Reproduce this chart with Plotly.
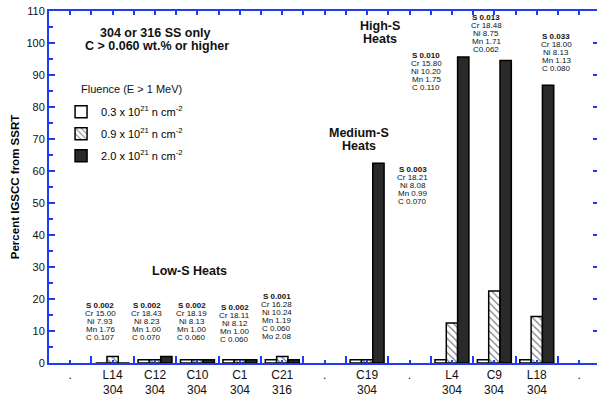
import plotly.graph_objects as go

# Category axis: heat IDs (empty slots shown as ".") and stainless grade
heat_labels = [".", "L14", "C12", "C10", "C1", "C21", ".", "C19", ".", "L4", "C9", "L18", "."]
grades = [None, "304", "304", "304", "304", "316", None, "304", None, "304", "304", "304", None]

# Percent IGSCC from SSRT at three fluence levels
igscc_03 = [None, 0, 1, 1, 1, 1, None, 1, None, 1, 1, 1, None]
igscc_09 = [None, 2, 1, 1, 1, 2, None, 1, None, 12.5, 22.5, 14.5, None]
igscc_20 = [None, 0, 2, 1, 1, 1, None, 62.4, None, 95.6, 94.5, 86.8, None]

# Heat chemistry (wt.%)
chem_heats = ["L14", "C12", "C10", "C1", "C21", "C19", "L4", "C9", "L18"]
chem_S = ["0.002", "0.002", "0.002", "0.002", "0.001", "0.003", "0.010", "0.013", "0.033"]
chem_Cr = ["15.00", "18.43", "18.19", "18.11", "16.28", "18.21", "15.80", "18.48", "18.00"]
chem_Ni = ["7.93", "8.23", "8.13", "8.12", "10.24", "8.08", "10.20", "8.75", "8.13"]
chem_Mn = ["1.76", "1.00", "1.00", "1.00", "1.19", "0.99", "1.75", "1.71", "1.13"]
chem_C = ["C 0.107", "C 0.070", "C 0.060", "C 0.060", "C 0.060", "C 0.070", "C 0.110", "C0.062", "C 0.080"]
chem_Mo = [None, None, None, None, "2.08", None, None, None, None]

series_names = [
    "0.3 x 10<sup>21</sup> n cm<sup>-2</sup>",
    "0.9 x 10<sup>21</sup> n cm<sup>-2</sup>",
    "2.0 x 10<sup>21</sup> n cm<sup>-2</sup>",
]

BLUE = "#1f3cf5"
FONT = "Liberation Sans, Arial, Helvetica, sans-serif"
x = list(range(len(heat_labels)))

fig = go.Figure()
fig.add_trace(go.Bar(
    x=x, y=igscc_03, name=series_names[0], legendgroup="a",
    marker=dict(color="white", line=dict(color="black", width=1.5)),
))
fig.add_trace(go.Bar(
    x=x, y=igscc_09, name=series_names[1], legendgroup="b",
    marker=dict(color="white", line=dict(color="black", width=1.5),
                pattern=dict(shape="\\", fgcolor="black", bgcolor="white",
                             size=5, solidity=0.25)),
))
fig.add_trace(go.Bar(
    x=x, y=igscc_20, name=series_names[2], legendgroup="c",
    marker=dict(color="#2a2a2a", line=dict(color="black", width=1.5)),
))
# carrier trace for the top/right tick frame
fig.add_trace(go.Scatter(x=[0], y=[0], xaxis="x2", yaxis="y2", mode="markers",
                         marker=dict(opacity=0), showlegend=False, hoverinfo="skip"))

XR = [-0.5, 12.42]
fig.update_layout(
    width=598, height=396,
    margin=dict(l=49, r=1, t=11, b=33),
    paper_bgcolor="white", plot_bgcolor="white",
    font=dict(family=FONT, color="black"),
    barmode="group", bargap=0.2, bargroupgap=0,
    showlegend=True,
    legend=dict(x=0.022, y=0.755, xanchor="left", yanchor="top",
                font=dict(size=11, family=FONT), bgcolor="rgba(0,0,0,0)",
                traceorder="grouped", tracegroupgap=3, itemclick=False),
    xaxis=dict(
        range=XR, tickmode="array", tickvals=x, ticktext=heat_labels,
        ticks="inside", ticklen=3, tickwidth=2, tickcolor=BLUE,
        showline=True, linecolor=BLUE, linewidth=2, showgrid=False, zeroline=False,
        tickfont=dict(size=12, family=FONT, color="#111"),
        minor=dict(tickmode="array", tickvals=[i + 0.5 for i in x[:-1]],
                   ticks="inside", ticklen=7, tickwidth=2, tickcolor=BLUE, showgrid=False),
    ),
    yaxis=dict(
        range=[0, 110], dtick=10, ticks="inside", ticklen=6, tickwidth=2, tickcolor=BLUE,
        showline=True, linecolor=BLUE, linewidth=2, showgrid=False, zeroline=False,
        tickfont=dict(size=11, family=FONT, color="#111"),
        minor=dict(dtick=5, ticks="inside", ticklen=4, tickwidth=2, tickcolor=BLUE, showgrid=False),
        title=dict(text="<b>Percent IGSCC from SSRT</b>", font=dict(size=11.5, family=FONT), standoff=4),
    ),
    xaxis2=dict(
        overlaying="x", side="top", range=XR, tickmode="linear", tick0=0, dtick=0.5,
        ticks="inside", ticklen=4, tickwidth=2, tickcolor=BLUE,
        showline=True, linecolor=BLUE, linewidth=2, showgrid=False, zeroline=False,
        showticklabels=False,
    ),
    yaxis2=dict(
        overlaying="y", side="right", range=[0, 110], dtick=10,
        ticks="inside", ticklen=4, tickwidth=2, tickcolor=BLUE,
        showline=False, showgrid=False, zeroline=False, showticklabels=False,
    ),
)

ann = []
# stainless grade row under the heat IDs
for xi, g in zip(x, grades):
    if g:
        ann.append(dict(x=xi, y=0, xref="x", yref="paper", text=g, showarrow=False,
                        yanchor="middle", yshift=-26.5, font=dict(size=12, color="#111")))

# chemistry blocks: (category position, horizontal offset, value of the first line)
chem_anchor = {
    "L14": (1, -0.29, 18.0), "C12": (2, -0.19, 18.0), "C10": (3, -0.13, 18.0),
    "C1": (4, -0.12, 17.3), "C21": (5, -0.13, 20.8), "C19": (7, 1.07, 60.5),
    "L4": (9, -0.6, 96.1), "C9": (10, -0.19, 108.0), "L18": (11, 0.46, 102.0),
}
for k, h in enumerate(chem_heats):
    lines = [f"<b>S {chem_S[k]}</b>", f"Cr {chem_Cr[k]}", f"Ni {chem_Ni[k]}",
             f"Mn {chem_Mn[k]}", chem_C[k]]
    if chem_Mo[k]:
        lines.append(f"Mo {chem_Mo[k]}")
    cx, off, top = chem_anchor[h]
    for i, t in enumerate(lines):
        ann.append(dict(x=cx + off, y=top, xref="x", yref="y", text=t, showarrow=False,
                        xanchor="center", yanchor="middle", yshift=-8.0 * i,
                        font=dict(size=8, color="#111")))

# headings
def bold_text(txt, xi, yv, size=12.5, dy=0):
    return dict(x=xi, y=yv, xref="x", yref="y", text=f"<b>{txt}</b>", showarrow=False,
                xanchor="center", yanchor="middle", yshift=dy, font=dict(size=size, color="#111"))

ann += [
    bold_text("304 or 316 SS only", 2.02, 103.2),
    bold_text("C > 0.060 wt.% or higher", 2.04, 99.1),
    bold_text("Low-S Heats", 2.82, 28.6),
    bold_text("Medium-S", 6.8, 71.9),
    bold_text("Heats", 6.8, 67.7),
    bold_text("High-S", 7.3, 105.4),
    bold_text("Heats", 7.3, 101.2),
    dict(x=0.2, y=85.6, xref="x", yref="y", text="Fluence (E > 1 MeV)", showarrow=False,
         xanchor="left", yanchor="middle", font=dict(size=11, color="#111")),
]
fig.update_layout(annotations=ann)

fig.write_html("out.html")
